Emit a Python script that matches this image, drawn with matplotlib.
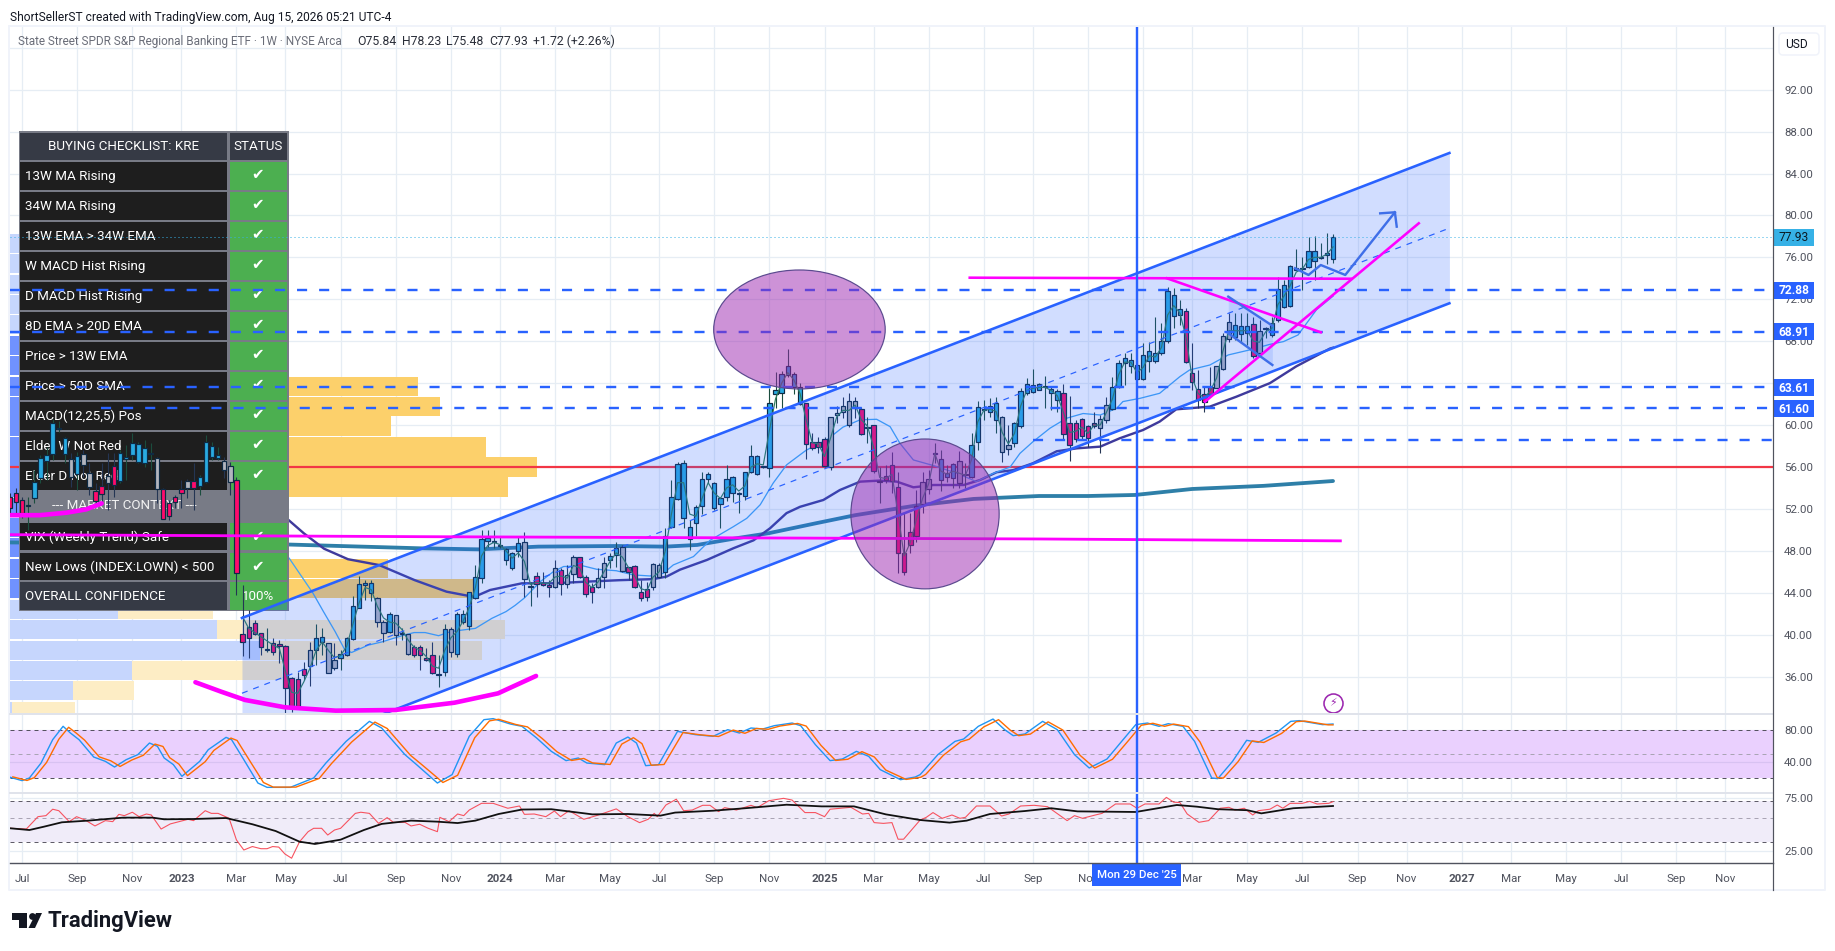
import numpy as np
import matplotlib
matplotlib.use("Agg")
import matplotlib.pyplot as plt
from matplotlib.patches import Rectangle, Ellipse, FancyBboxPatch, Polygon, Circle
from matplotlib.lines import Line2D
from matplotlib.transforms import Affine2D

plt.rcParams['font.family'] = ['Roboto', 'DejaVu Sans']

W, H = 1835, 951

# ---------- candles ----------
highs = [53.48,53.96,53.16,53.1,55.7,57.14,57.94,60.6,60.4,58.9,
57.3,57.46,57.62,56.35,54.44,56.35,57.3,57.3,57.62,58.1,
59.2,58.41,58.57,58.32,56.98,53.96,52.85,53.32,54.75,54.9,
56.35,55.2,59.05,58.41,57.94,56.98,56.5,55.07,44.74,42.36,
41.4,40.13,40.6,39.65,39.5,39.0,36.0,36.47,37.43,39.34,
41.02,40.6,39.18,39.18,38.54,39.75,43.69,45.6,45.2,45.2,
43.63,41.4,42.2,41.85,40.6,40.03,39.0,39.0,38.7,39.34,
38.06,41.02,40.77,42.2,42.36,44.1,46.65,50.0,50.0,50.0,
49.35,48.24,47.92,49.35,49.77,45.06,46.02,46.0,45.2,47.13,
46.33,46.65,47.6,47.45,45.7,44.9,46.33,47.45,47.77,48.82,
48.56,46.49,46.65,45.2,45.06,46.81,46.8,50.15,54.76,56.5,
56.67,50.95,52.38,55.5,55.56,54.6,53.17,56.2,55.15,53.65,
55.56,58.1,57.15,56.1,63.5,65.1,65.16,67.26,65.1,64.0,
62.07,59.2,58.9,58.9,60.8,61.85,62.7,63.1,62.7,61.76,
60.8,59.98,56.03,56.2,57.47,55.56,51.74,51.6,53.81,55.56,
55.72,58.26,57.62,56.2,56.35,57.56,56.35,59.2,62.3,62.4,
62.55,62.71,60.87,60.0,60.3,63.5,64.46,65.32,64.05,64.7,
63.73,63.41,63.89,62.78,60.49,60.65,60.0,61.28,60.96,62.71,
64.6,66.2,66.85,66.85,66.2,67.8,67.96,70.35,69.71,73.21,
73.05,71.94,71.14,67.8,65.26,63.67,65.58,65.65,68.76,70.66,
70.66,70.66,70.66,70.35,70.03,69.39,70.35,74.16,73.85,75.28,
76.77,76.07,77.98,78.0,77.4,78.3,78.23]
tops = [53.10,53.48,52.81,52.35,54.53,56.82,57.11,60.23,59.75,58.73,
56.79,57.08,57.2,55.45,53.67,54.15,55.17,56.12,57.3,56.95,
58.32,58.16,57.78,57.35,56.89,53.86,52.59,53.1,53.93,54.69,
54.69,55.0,58.41,58.03,57.11,56.54,56.06,54.72,40.07,40.77,
41.15,40.13,38.65,39.18,39.08,38.89,35.84,35.74,36.76,38.51,
39.65,39.75,39.18,37.55,38.13,39.65,42.71,44.81,44.9,44.9,
43.53,41.24,41.94,41.85,40.18,40.03,38.79,38.79,37.75,38.03,
36.25,40.51,40.51,41.94,41.94,44.04,45.47,49.1,49.26,48.95,
48.54,48.21,47.76,48.72,48.81,44.65,45.6,44.97,44.78,46.33,
46.18,45.67,47.38,47.45,45.54,44.59,45.44,46.81,47.48,48.24,
48.4,46.43,46.56,44.04,44.33,46.72,46.62,49.45,53.17,56.26,
56.35,50.25,52.16,54.83,55.3,54.45,53.01,54.83,55.02,53.54,
55.49,57.02,57.02,56.09,62.14,63.35,64.84,65.6,64.84,63.67,
62.07,58.35,58.35,58.64,60.74,61.18,61.79,62.27,62.27,61.5,
59.8,59.98,54.65,55.11,56.16,54.06,47.76,49.83,52.31,54.54,
54.82,57.35,56.73,55.4,56.26,56.54,55.35,58.07,61.7,61.49,
61.79,62.08,60.74,58.13,60.17,63.29,63.95,63.86,63.95,63.72,
63.48,63.29,63.09,60.17,60.17,60.55,59.88,60.17,60.55,61.88,
63.63,65.89,66.37,66.18,65.7,66.66,67.04,66.85,68.0,72.76,
72.38,71.05,70.86,64.94,63.41,63.0,63.67,65.61,68.47,69.87,
69.58,69.42,69.42,69.61,68.95,69.22,69.71,72.95,73.34,75.15,
74.94,74.95,76.64,76.64,76.02,76.39,77.93]
bots = [52.05,52.62,51.64,52.25,53.0,54.91,56.54,57.2,59.65,57.2,
55.07,55.3,56.19,54.06,52.78,53.39,54.44,54.28,54.69,56.8,
57.11,56.47,56.35,57.25,53.86,51.07,51.29,52.62,53.48,54.02,
53.96,54.15,54.6,56.92,56.85,55.68,54.53,45.85,39.27,39.65,
40.03,38.86,38.55,38.38,38.89,34.95,33.23,33.23,36.19,36.98,
38.51,39.27,36.38,36.79,37.75,38.03,39.56,42.58,44.71,43.95,
41.21,40.13,40.29,39.94,40.08,38.16,38.03,38.06,37.55,36.31,
36.15,36.47,38.38,38.19,41.18,40.86,43.47,45.38,48.97,48.85,
48.44,47.09,46.33,48.02,45.28,44.55,44.81,44.78,44.52,44.59,
44.84,44.81,45.76,45.48,43.85,44.11,44.59,45.48,47.1,47.64,
46.11,46.02,44.52,43.47,43.57,44.59,45.54,45.95,50.25,52.98,
51.17,49.1,50.69,52.28,54.89,52.12,52.44,53.17,53.49,53.44,
53.2,55.56,55.37,55.99,55.87,62.93,63.03,64.75,63.67,61.98,
58.16,57.78,57.94,56.13,55.97,61.0,61.22,59.98,61.6,59.1,
59.7,55.59,54.55,54.73,54.7,47.76,46.0,48.53,49.45,52.44,
53.87,57.25,54.76,55.08,54.92,54.51,55.25,55.02,58.36,61.39,
61.28,60.45,57.4,57.69,58.26,59.95,63.03,63.13,63.38,63.62,
63.03,62.36,59.12,58.07,58.64,58.93,58.74,59.88,59.69,60.45,
61.5,63.67,65.96,65.67,64.43,64.43,66.08,66.08,66.85,68.0,
70.44,70.47,65.99,64.14,62.36,62.24,63.0,63.57,65.38,68.18,
68.44,68.66,68.79,66.56,66.85,69.12,68.57,70.03,71.24,71.33,
74.84,74.85,75.05,75.69,75.92,76.2,75.84]
lows = [51.57,51.57,51.1,50.0,52.53,54.44,54.75,56.66,59.37,56.35,
54.12,53.8,55.07,53.32,52.53,52.69,51.9,53.16,54.44,54.75,
56.66,56.35,56.03,55.71,52.53,51.0,50.94,52.05,52.05,53.0,
51.9,53.32,54.44,56.66,56.66,54.91,53.32,43.79,38.0,37.75,
39.97,38.06,38.38,38.06,37.27,32.5,32.65,33.13,35.68,35.1,
37.11,38.06,36.3,36.63,36.63,37.97,39.5,42.5,43.31,43.2,
40.77,39.34,40.13,39.0,39.5,38.06,37.9,36.63,37.52,36.25,
35.04,36.06,37.9,37.84,40.99,40.45,43.4,44.9,48.4,48.24,
48.24,46.65,46.17,47.44,43.63,42.77,43.63,44.6,43.63,44.43,
43.79,44.43,44.9,45.38,43.63,43.0,44.43,44.43,46.33,46.49,
46.02,45.2,44.43,43.25,43.22,44.27,45.38,45.38,50.15,52.85,
50.15,48.08,49.42,51.52,54.45,51.9,50.21,52.79,52.7,51.65,
52.85,55.4,55.24,55.9,55.0,61.6,61.66,64.6,62.97,61.9,
56.76,57.62,57.3,56.03,55.71,60.17,60.64,59.85,60.64,59.05,
58.26,55.4,52.6,54.44,53.5,45.86,45.7,47.76,48.81,51.58,
53.43,56.35,53.74,54.6,54.03,53.97,53.97,54.92,57.62,60.5,
60.8,59.28,56.51,57.15,57.88,59.69,62.87,63.03,63.3,61.6,
61.44,61.28,58.58,56.6,58.42,58.58,57.94,59.69,57.3,60.23,
61.44,63.5,63.83,64.94,64.3,64.3,65.1,65.89,66.69,67.87,
69.23,69.55,65.89,63.35,61.6,61.22,62.87,63.5,65.26,67.96,
68.12,67.8,67.64,66.37,66.69,68.28,68.44,69.87,71.14,71.24,
74.8,72.89,74.96,73.85,75.8,75.4,75.48]
impulse = ("pppdbbbbbb" "gbggppgpbb" "bbbdgppppg" "pbbbbggppp" "ppdppppppg" "bbggbbbbbb"
           "ggbgdgpppp" "dbgbbbbbbd" "dbbbgdpppg" "pggpppggbb" "gppppggbbb" "bbbbbbbbbd"
           "bbbdbbbbbb" "ppppgggggp" "dpdppppppg" "gdbbbgdbbd" "bbggbbbbbd" "bbppppppgg"
           "bbbbbbbbbb" "bbpppppggg" "bbbpgdbbbb" "ddbbdbb")

# ---------- moving averages ----------
ma_fast_v = [41.7,40.6,40.2,39.8,39.4,39,38.7,36.5,34.5,34.4,35.5,36.8,38.5,39.3,38.5,37.8,38,38.9,41,43,44.5,44.3,42.7,41.6,41.2,41.1,40.5,39.5,38.8,38.5,37.9,37,36.8,38.5,39.7,40.3,41.3,42.6,44.5,47.5,48.5,48.8,48.6,48,47.3,47.8,47,44.8,45,44.9,44.9,45.5,45.6,45.4,46.6,46.4,45,44.5,45,46,47,47.8,47.4,46.4,45.6,44.4,44.2,45.5,46,48,51.5,54.5,54.5,51.5,51.3,53,54.5,53.5,53,54,54.3,53.7,54.2,56,56.3,56.2,59.5,62.5,64,65,64.3,63,60.5,58.3,58.2,57,58.8,60.8,61.4,61.4,61.9,60.5,59.9,57.9,55,54.9,55.3,51.5,47.5,48.8,51,53,54.4,57.3,55.6,55.3,55.6,55.4,55.2,56.7,60.3,61.4,61.5,61.3,59.3,58.2,59.2,61.8,63.3,63.5,63.6,63.6,63.3,62.8,61.2,59.3,59.4,59.8,59.2,60,60,61.2,62.5,64.8,66,66,65,65.5,66.6,66.5,67.4,70.5,71.4,70.7,68.4,64.5,63,62.6,63.3,64.5,67,69,69,69,69,68,67.9,68.9,69.2,71.5,72.3,73.3,74.6,74.9,75.8,76,76,76.3,77]
ma_fast_start = 38
ma_mid_i = [45.6,49.5,51.2,53.1,54.7,55.8,58.5,60.7,64,66,67.8,70,72,76,78.7,81,82.5,84,86.6,88.7,90.4,93.6,95.8,99,101.8,104.5,106.7,108.3,111.6,114.3,118.1,120.3,122.5,124.6,126.8,130,133.4,136,138.8,141.5,143.7,145.3,147.5,150.8,154.6,157.8,160.6,163.3,164.9,167,169.8,172.5,175.2,178,180.7,181.7,184.5,187.7,191,192.6,195.9,198.9,202.4,205.7,207.9,210.3,213.3,216]
ma_mid_v = [47.3,43.95,42.2,40.3,38.54,38.3,39,39.3,39.9,40.2,40.2,39.9,40.3,40.6,41.56,42.2,42.8,43.5,45.06,46,46.5,46.56,46.24,46.1,45.7,45.6,45.86,46.65,47.45,49,50.3,51.1,52.4,54.45,56.2,57.6,58.6,59.8,60.5,60.55,59.85,58.26,56.67,56.13,55.4,54.6,55.4,56,57.3,58.4,59.7,60.65,61.1,60.96,61.6,62.24,62.55,63.03,64.62,65.26,65.73,66.69,67.17,67.7,67.96,68.6,71,72.3]
ma_slow_i = [45.5,48,51.3,55.2,60.3,66.1,71.3,75.8,78.4,83.6,88.7,94.2,99.6,105,107.2,109.4,113.8,118.1,121.4,124.1,126.8,129,132.8,135.5,138.8,142,144.8,147.5,150.8,155.7,158.4,161.1,163.8,167,170.9,174.2,178,181.2,185,187.7,190.4,195.9,200.2,205.7,210,215.5,216]
ma_slow_v = [50.94,49.67,48.2,47.2,46.64,45.2,44.1,43.6,44.26,44.9,44.9,45.06,45.2,45.3,45.54,46.2,47.13,48.24,49,50.15,51.6,52.2,52.85,53.8,54.6,54.7,54.6,54.06,54.28,54.28,54.76,55.5,55.7,56.35,57.5,57.78,57.94,58.74,59.53,60.33,61.5,61.76,62.7,64,65.6,67.3,67.38]
ma_long_i = [0,45.5,67,76.6,86.3,99.1,107,112.2,118.6,123.8,131.6,138,147.7,157.3,168,176,183.7,193,204.7,216]
ma_long_v = [48.8,48.6,48.24,48.14,48.4,48.46,48.4,48.56,49.2,49.67,50.63,51.4,52.3,52.95,53.23,53.23,53.33,53.9,54.2,54.66]

# ---------- volume profile (row price, up end, down end, in weeks from pane left) ----------
vp_row_price = [77.3,75.4,73.4,71.5,69.6,67.6,65.7,63.7,61.8,59.9,57.9,56,54.1,52.1,50.2,48.3,46.3,44.4,42.4,40.5,38.5,36.6,34.7,32.7]
vp_up_end =    [14.7,14.7,14.7,14.7,14.7,22.9,27.8,31,31,31,31,31,31,16,16,16,14.7,18,17.6,33.8,40.8,19.9,10.3,0.3]
vp_down_end =  [16.3,16.3,16.3,16.3,16.3,31,39.2,66.6,70.2,62.2,77.7,86,81.3,39.2,39.2,39.2,61.7,75.6,33.1,80.8,77,44.4,20.2,10.6]
vp_strong =    [0,0,0,0,0,1,1,1,1,1,1,1,1,1,1,1,1,1,0,0,0,0,0,0]

# ---------- drawings ----------
chan_i = [37.9, 235]
chan_top = [41.59, 85.96]
chan_mid = [34.41, 78.79]
chan_bot = [27.23, 71.62]
level_prices = [72.88, 68.91, 63.61, 61.60, 58.58]
level_start = [0, 0, 0, 14.9, 167]
level_labels = ["72.88", "68.91", "63.61", "61.60"]
last_price = 77.93
support_price = 56.0
hline_i = [0, 67, 168, 217.2]
hline_v = [49.54, 49.35, 49.13, 48.95]
smile_i = [30.3, 34.5, 38.4, 44.9, 53.2, 62.9, 72.6, 79.7, 85.9]
smile_v = [35.46, 34.56, 33.77, 33.07, 32.75, 32.81, 33.51, 34.4, 36.06]
smile2_i = [0, 4.9, 9.3, 12.5, 15]
smile2_v = [51.4, 51.4, 51.64, 51.96, 52.53]
resist_i = [156.7, 219]
resist_v = [74.06, 73.96]
fall_i = [188.9, 214]
fall_v = [74.0, 68.85]
rise_i = [195.1, 230]
rise_v = [62.23, 79.25]
path_i = [209.8, 212, 214, 218, 226.1]
path_v = [74.96, 74.32, 75.27, 74.32, 80.3]
head_i = [223.7, 226.1, 226.4]
head_v = [80.2, 80.3, 78.93]
flag_i = [198.9, 206.1]
flag_hi = [72.25, 69.48]
flag_lo = [68.76, 65.73]
ell_1 = (128.9, 69.12, 28.0, 11.35)
ell_2 = (149.4, 51.52, 24.2, 14.3)
cross_i = 184
alert_i, alert_p = 216, 33.5

# ---------- oscillators ----------
k_i = [0.1,2,3.2,5.1,7,8.7,9.9,11.3,13.7,15.6,17.1,19,20.9,22.8,24.1,25.2,26.7,28.1,31,32.4,35.3,36.2,38.2,40.5,42,45.8,49.6,51.6,54.9,58.7,60.7,64.5,66.4,69.8,72.2,75,77.4,78.9,81.7,83.6,86,88.4,90.8,92.8,94.2,97.1,99,100.9,102.3,103.8,105.9,109,111.9,114.8,117.2,119.1,121,122.9,124.8,127.7,129.1,131.5,133.9,135.9,138.2,140.2,142.1,145.4,147.8,148.6,151.5,154.3,155.7,158.1,160.5,162.4,163.8,165.7,168.6,171,173.8,176.2,179.1,181.5,183.8,185.7,187.6,189.1,191.5,193.4,196.2,197.2,199.6,201.9,203.8,206.7,209.1,210.5,214.3,216]
k_v = [20.4,16.3,19.6,38.3,67.5,84.2,75.8,67.5,45.8,40.4,33.3,42.5,48.8,63.3,59.2,44.6,36.3,21.7,40.4,55,70.4,67.5,42.5,13.3,7.9,7.9,19.6,38.3,65.4,90.4,82.1,48.8,36.3,13.3,23.8,71.7,92.5,93.8,87.1,84.2,69.6,52.9,41.3,44.6,38.3,36.3,63.3,70.8,63.3,35,36.3,77.9,73.8,71.7,80,75.8,82.1,80.8,85,88.3,85,61.3,41.3,43.3,52.9,46.7,30,17.5,20.8,23.8,48.8,65.4,68.3,84.2,93.3,80,72.5,74.6,90.4,80,48.8,32.1,43.3,65.4,86.3,88.3,84.2,87.5,84.2,65.4,19.6,18.8,40.4,66.7,64.2,75.8,90.4,91.3,86.3,87.1]
d_i = [0.5,2.8,4,6,8,9.6,10.8,12.2,14.6,16.5,18,19.9,21.8,23.7,25,26.1,27.6,29,31.9,33.3,36.1,37.1,39.1,41.4,43,46.7,50.5,52.5,55.8,59.6,61.6,65.4,67.3,70.7,73.1,75.9,78.3,79.8,82.6,84.5,86.9,89.3,91.7,93.7,95.1,98,99.9,101.8,103.2,104.7,106.8,109.9,112.8,115.7,118.1,120,121.9,123.8,125.7,128.6,130,132.4,134.8,136.8,139.1,141.1,143,146.3,148.7,149.5,152.4,155.2,156.6,159,161.4,163.3,164.7,166.6,169.5,171.9,174.7,177.1,180,182.4,184.7,186.6,188.5,190,192.4,194.3,197.1,198.1,200.5,202.8,204.7,207.6,210,211.4,215.2,216]
d_v = [21,16.5,20,39,68,83,76,67,46,41,34,42,48,62,59,45,37,22.5,40,54,69.5,66.5,42,14,8.2,8.2,19,37.5,64.5,89.5,81.5,48,36,14,23,70,91,93,86.5,83.5,69,52.5,41.5,44,38.5,36.5,62,70,62.5,35.5,36.5,76.5,73.5,71.5,79.5,75.5,81.5,80.5,84.5,87.8,84.5,60.5,41.5,43,52.5,46,29.5,17.8,20.5,24,48,64.8,68,83.5,92.5,79.5,72.5,74.5,89.8,79.5,48,32,43,64.5,85.5,88,84.2,87,83.8,64.5,20,19.5,40,66,64,75.3,90,90.8,86,86]
rsi_i = [0.1,2.7,4.6,5.9,7,8,9.7,10.9,12.3,13.9,15.6,16.8,17.8,18.7,20,21.1,22.3,23.1,24.7,26.2,27.6,29.1,30,31.9,32.9,34,35.8,37,38.2,39.6,41,42,42.9,43.9,44.9,46,47.3,48.7,49.6,50.9,51.9,53,54,56.4,57.3,58.7,60.2,61.6,62.6,64.5,65.5,66.9,68.3,69.8,70.2,71.7,73.1,74.1,75,77,78.9,81.3,83.2,84,85.6,87.5,88.9,89.9,91.3,93.7,96.1,99,100.9,102.8,104.2,105.2,105.7,107.1,108.8,110,111.4,113.1,114.3,115.7,116.7,118.6,121,122,123.9,126.3,127.7,129.8,131.5,133,133.9,137.3,139.2,140.2,141.1,142.6,144,145,145.9,148.6,149.6,150.7,152.2,153.8,155.1,156,157.8,160,161.9,163.1,165,167.2,169.4,171.3,172.6,173.8,175.1,177.2,178.3,180.5,182.9,184,185.3,187.6,188.8,190,191,192.2,194.1,195.7,197.6,199,200,201.5,202.9,203.8,205.7,206.9,207.8,209,211,212.2,213.4,215.3,216]
rsi_v = [40.1,39.5,51,52.1,59.5,57.7,46,51,47.6,42.1,47,46,53.5,52.1,55.9,51,53.9,52.8,39.5,43.9,46,48.3,47,57.7,54.6,54.6,49.3,31.5,25.6,27.5,26.3,26.3,27.5,27.2,23.6,21.6,30.4,37.4,40.1,40.1,34.9,38.7,40.1,54.6,55.9,54.6,44.4,50,45.4,45.4,42.1,43.6,40.1,37.4,50.3,46,53.9,52.1,58.5,67.2,67.2,60.7,63.6,53.5,53.9,51,57.3,51,57.7,48.3,52.8,59.9,51,45.1,48.3,54.6,51,64.9,73.2,57.7,58.5,64.5,64.5,56.6,61.5,58.5,64.5,61.5,70.9,74.5,71.9,55.5,55.5,51,59.5,61.9,53.9,54.6,45.1,44.4,45.1,32,32,47.6,50.3,55.5,49.3,52.8,49.3,50.3,63.6,63.6,51.7,53.9,63.6,64.5,62.7,52.8,47,52.1,49.3,52.8,54.6,66.3,66.3,60.7,66.3,66.3,76,68.8,68.3,53.9,45.4,47,60.7,61.9,58.5,60.7,52.8,57.7,59.5,64.9,60.7,67.2,67.2,70,66.3,67.2,69.6]
rsi_ma_i = [0.1,3.2,5.6,8.5,12.8,18.5,23.3,25.2,30,35.3,39.6,43.4,47.3,49.8,54,57.8,60.7,65.5,69.8,73.1,76,79.8,83.6,88.4,92.8,95.1,100.9,106.2,108.6,114.8,120,126.8,132.5,137.8,143,148.6,153.4,156.2,160,165.7,170,174.3,183.8,190.5,193.8,197.2,202,204.3,209.5,216]
rsi_ma_v = [40.1,38.7,41.5,45.4,47,50,50,48.3,48.6,49.6,43.6,37.9,30.4,29,31.7,38.7,43.9,47,46,44.7,47,53.9,59.1,59.5,55.5,53.5,53.9,52.1,55.5,57.7,60.7,65.3,63.1,63.1,53.5,47.6,45.1,47,53.9,57.3,60.7,56.9,56.2,64.9,62.7,59.5,58.3,54.6,60.7,63.6]

# ---------- axis ----------
tick_i = [2,11,20,28,37,45,54,63,72,80,89,98,106,115,124,133,141,150,159,167,176,185,193,202,211,220,228,237,245,254,263,272,280]
tick_labels = ["Jul","Sep","Nov","2023","Mar","May","Jul","Sep","Nov","2024","Mar","May","Jul","Sep","Nov","2025","Mar","May","Jul","Sep","Nov","","Mar","May","Jul","Sep","Nov","2027","Mar","May","Jul","Sep","Nov"]
price_ticks = [36,40,44,48,52,56,60,64,68,72,76,80,84,88,92,96]
price_labels = ["36.00","40.00","44.00","48.00","52.00","56.00","60.00","","68.00","72.00","76.00","80.00","84.00","88.00","92.00",""]

# ---------- checklist table text ----------
tbl_head = ["BUYING CHECKLIST: KRE", "STATUS"]
tbl_rows = ["13W MA Rising","34W MA Rising","13W EMA > 34W EMA","W MACD Hist Rising","D MACD Hist Rising",
            "8D EMA > 20D EMA","Price > 13W EMA","Price > 50D SMA","MACD(12,25,5) Pos","Elder W Not Red","Elder D Not Red"]
tbl_rows2 = ["VIX (Weekly Trend) Safe","New Lows (INDEX:LOWN) < 500"]

# ---------- style ----------
BLUE = '#2962ff'; MAG = '#ff00ff'; GRID = '#e6edf4'; TXT = '#50535e'
fs = lambda px: px * 0.72
pxT = Affine2D().scale(1, -1).translate(0, H)

fig = plt.figure(figsize=(W/100, H/100), dpi=100, facecolor='white')
L, R = 10, 1773
def mkax(top, bot):
    return fig.add_axes([L/W, (H-bot)/H, (R-L)/W, (bot-top)/H])
ax = mkax(27, 714); ax2 = mkax(714, 793); ax3 = mkax(793, 863)
xlim = ((L-9.8)/6.126, (R-9.8)/6.126)
for a in (ax, ax2, ax3):
    a.set_xlim(*xlim)
    a.set_facecolor('white')
    for s in a.spines.values():
        s.set_visible(False)
    a.set_axisbelow(True)
    a.set_xticks(tick_i)
    a.grid(True, color=GRID, lw=0.9)
    a.yaxis.tick_right()
    a.tick_params(length=0, labelcolor=TXT, labelsize=fs(11.5), pad=8)
ax.set_ylim(32.43, 97.98)
ax.set_yticks(price_ticks)
ax.set_yticklabels(price_labels)
ax.tick_params(labelbottom=False)
ax2.tick_params(labelbottom=False)
ax2.set_ylim(0.83, 99.6)
ax2.set_yticks([40, 80]); ax2.set_yticklabels(["40.00", "80.00"])
ax3.set_yscale('log')
ax3.set_ylim(19.57, 83.2)
ax3.set_yticks([25, 75]); ax3.set_yticklabels(["25.00", "75.00"])
ax3.minorticks_off()
ax3.set_xticks(tick_i)
ax3.set_xticklabels(tick_labels)
for lab, t in zip(ax3.get_xticklabels(), tick_labels):
    if t.isdigit():
        lab.set_fontweight('bold')
ax3.tick_params(axis='x', pad=8)

# volume profile
for p, u, d, st in zip(vp_row_price, vp_up_end, vp_down_end, vp_strong):
    cu = '#7092ff' if st else '#c6d6fd'
    cd = '#fcd06b' if st else '#fdedc5'
    ax.barh(p, d - u, left=u, height=1.84, color=cd, lw=0, zorder=2)
    ax.barh(p, u, left=0, height=1.84, color=cu, lw=0, zorder=2)

# lines below table
ax.axhline(support_price, color='#f23645', lw=fs(2.2), zorder=3)
ax.plot(ma_long_i, ma_long_v, color='#2e7fa8', lw=fs(3.8), zorder=3, solid_capstyle='round')
ax.plot(ma_slow_i, ma_slow_v, color='#3f3a9c', lw=fs(2.4), zorder=3)
ax.plot(ma_mid_i, ma_mid_v, color='#42a5f5', lw=fs(1.3), zorder=3.1)

# checklist table
def box(x0, y0, x1, y1, fc, z=5):
    ax.add_patch(Rectangle((x0, y0), x1-x0, y1-y0, transform=pxT, fc=fc, ec='none', zorder=z, clip_on=False))
def ttext(x, y, s, ha='left', c='white', size=13.4, **kw):
    ax.text(x, y, s, transform=pxT, ha=ha, va='center', color=c, fontsize=fs(size), zorder=5.2, clip_on=False, **kw)
box(18.5, 131, 288.5, 611, '#787b86')
box(20, 132.5, 227, 160, '#363a45'); box(229.5, 132.5, 287, 160, '#363a45')
ttext(124, 146.5, tbl_head[0], ha='center'); ttext(258, 146.5, tbl_head[1], ha='center')
row_tops = [161.5 + 30*n for n in range(11)]
for y0, s in zip(row_tops, tbl_rows):
    box(20, y0, 227, y0+28, '#1e1e1e'); box(229.5, y0, 287, y0+28, '#4caf50')
    ttext(25, y0+15, s)
    ttext(258, y0+14, '✔', ha='center', size=15)
ttext(124, 505.5, "--- MARKET CONTEXT ---", ha='center', c='#f2f2f2')
for y0, s in zip([522.5, 552.5], tbl_rows2):
    box(20, y0, 227, y0+27.5, '#1e1e1e'); box(229.5, y0, 287, y0+27.5, '#4caf50')
    ttext(25, y0+15, s)
    ttext(258, y0+14, '✔', ha='center', size=15)
box(20, 582, 227, 609.5, '#363a45'); box(229.5, 582, 287, 609.5, '#4caf50')
ttext(25, 596, "OVERALL CONFIDENCE")
ttext(258, 596, "100%", ha='center')

# candles
idx = np.arange(len(highs))
cmap = {'b': '#29abe2', 'p': '#ff0a6c', 'g': '#b2b5be', 'd': '#29abe2'}
colors = [cmap[c] for c in impulse]
wick = ['#1b4d3e' if c in 'bd' else '#243553' for c in impulse]
ax.vlines(idx, lows, highs, colors=wick, lw=fs(1.1), zorder=5.9)
ax.bar(idx, np.array(tops) - np.array(bots), bottom=bots, width=0.72, color=colors,
       edgecolor='#0e2a44', lw=fs(1.2), zorder=6)
ax.plot(np.arange(ma_fast_start, ma_fast_start + len(ma_fast_v)), ma_fast_v, color='#2f7d5b', lw=fs(1.2), zorder=6.1)

# channel
ax.fill_between(chan_i, chan_bot, chan_top, color=BLUE, alpha=0.21, lw=0, zorder=7)
ax.plot(chan_i, chan_top, color=BLUE, lw=fs(2.6), zorder=8)
ax.plot(chan_i, chan_bot, color=BLUE, lw=fs(2.6), zorder=8)
ax.plot(chan_i, chan_mid, color=BLUE, lw=fs(1.2), ls=(0, (5, 5)), zorder=8)

# levels
for p, s in zip(level_prices, level_start):
    ax.plot([s, xlim[1]], [p, p], color=BLUE, lw=fs(2.4), ls=(0, (4.2, 5)), zorder=8.5)
ax.axhline(last_price, color='#36b1e6', lw=fs(1), ls=(0, (1, 3)), zorder=8.5)
ax.plot(hline_i, hline_v, color=MAG, lw=fs(2.8), zorder=9)
ax.plot(smile_i, smile_v, color=MAG, lw=fs(4.6), zorder=9, solid_capstyle='round')
ax.plot(smile2_i, smile2_v, color=MAG, lw=fs(4.6), zorder=9, solid_capstyle='round')
ax.plot(resist_i, resist_v, color=MAG, lw=fs(2.6), zorder=9)
ax.plot(fall_i, fall_v, color=MAG, lw=fs(2.6), zorder=9)
ax.plot(rise_i, rise_v, color=MAG, lw=fs(2.6), zorder=9)
ax.fill_between(flag_i, flag_lo, flag_hi, color=BLUE, alpha=0.14, lw=0, zorder=8.6)
ax.plot(flag_i, flag_hi, color='#3f6fe8', lw=fs(2.4), zorder=9)
ax.plot(flag_i, flag_lo, color='#3f6fe8', lw=fs(2.4), zorder=9)
ax.plot(path_i, path_v, color='#3f6fe8', lw=fs(2.4), zorder=9)
ax.plot(head_i, head_v, color='#3f6fe8', lw=fs(2.4), zorder=9)

# ellipses
for cx, cy, w_, h_ in (ell_1, ell_2):
    ax.add_patch(Ellipse((cx, cy), w_, h_, fc=(0.612, 0.153, 0.69, 0.5), ec='#5b4a8f', lw=fs(1.2), zorder=10))

# oscillators
ax2.axhspan(20, 80, color='#ead0fe', lw=0, zorder=1.0)
ax2.axhline(40, color='#d8c2f2', lw=fs(1.2), zorder=1.1)
ax2.axhline(80, color='#55525f', lw=fs(1), ls=(0, (4, 4)), zorder=2)
ax2.axhline(50, color='#a9a4b4', lw=fs(1), ls=(0, (4, 4)), zorder=2)
ax2.axhline(20, color='#55525f', lw=fs(1), ls=(0, (4, 4)), zorder=2)
ax2.plot(k_i, k_v, color='#2196f3', lw=fs(1.4), zorder=3)
ax2.plot(d_i, d_v, color='#ff6d00', lw=fs(1.4), zorder=3.1)

ax3.axhspan(30, 70, color='#f0ecf9', lw=0, zorder=1.0)
ax3.axhline(70, color='#5f5c68', lw=fs(1), ls=(0, (4, 4)), zorder=2)
ax3.axhline(50, color='#a9a4b4', lw=fs(1), ls=(0, (4, 4)), zorder=2)
ax3.axhline(30, color='#5f5c68', lw=fs(1), ls=(0, (4, 4)), zorder=2)
ax3.plot(rsi_i, rsi_v, color='#f7525f', lw=fs(1.1), zorder=3)
ax3.plot(rsi_ma_i, rsi_ma_v, color='#111111', lw=fs(1.8), zorder=3.1)

# crosshair
for a in (ax, ax2, ax3):
    a.axvline(cross_i, color=BLUE, lw=fs(2.4), zorder=12)

# price tags
def tag(price, s, fc, tc, weight='bold'):
    y = H - ax.transData.transform((0, price))[1]
    ax.add_patch(Rectangle((R, y-8.2), 41, 17, transform=pxT, fc=fc, ec='none', zorder=20, clip_on=False))
    ax.text(R+21, y+0.8, s, transform=pxT, ha='center', va='center', color=tc, fontsize=fs(12),
            fontweight=weight, zorder=21, clip_on=False)
tag(last_price, f"{last_price:.2f}", '#36b1e6', '#0b1a24', 'normal')
for p, s in zip(level_prices[:4], level_labels):
    tag(p, s, BLUE, 'white')

# date tag
ax3.add_patch(Rectangle((1092, 863), 89, 22.5, transform=pxT, fc=BLUE, ec='none', zorder=20, clip_on=False))
ax3.text(1136.5, 875, "Mon 29 Dec '25", transform=pxT, ha='center', va='center', color='white',
         fontsize=fs(11.5), fontweight='medium', zorder=21, clip_on=False)

# alert icon
ax.plot([alert_i], [alert_p], marker='o', ms=fs(19), mfc='white', mec='#9c27b0', mew=fs(1.6), zorder=13, clip_on=False)
ax.text(alert_i, alert_p, '⚡', ha='center', va='center', color='#9c27b0', fontsize=fs(11), family=['DejaVu Sans'], zorder=14)

# frame / dividers
def fline(x, y, c, lw):
    fig.add_artist(Line2D(x, y, transform=pxT, color=c, lw=fs(lw), zorder=5))
fline([9, 1825, 1825, 9, 9], [26, 26, 890, 890, 26], '#f0f3fa', 2)
fline([10, 1773], [714, 714], '#e0e3eb', 2)
fline([10, 1773], [793, 793], '#e0e3eb', 2)
fline([10, 1773], [863, 863], '#50535e', 1.4)
fline([1773, 1773], [27, 890], '#50535e', 1.2)
fig.add_artist(FancyBboxPatch((1779, 33), 40, 22, boxstyle="round,pad=0,rounding_size=4", transform=pxT,
                              fc='white', ec='#f0f3fa', lw=fs(1.5), zorder=6))
fig.text(1796.5, 44, "USD", transform=pxT, ha='center', va='center', color='#131722', fontsize=fs(12), zorder=7)

# header text
def ftext(x, y, s, c, size=12, **kw):
    fig.text(x, y, s, transform=pxT, va='center', color=c, fontsize=fs(size), zorder=7, **kw)
ftext(9.5, 17, "ShortSellerST created with TradingView.com, Aug 15, 2026 05:21 UTC-4", '#131722', 12)
ftext(18, 41.5, "State Street SPDR S&P Regional Banking ETF · 1W · NYSE Arca", '#6a6d78', 11.8)
for x, s in zip([357, 401.6, 446, 489, 533], ["O75.84", "H78.23", "L75.48", "C77.93", "+1.72 (+2.26%)"]):
    ftext(x, 41.5, s, '#2a2e39', 12.2)

# TradingView logo
fig.add_artist(Polygon([[12, 913], [27, 913], [27, 928], [19, 928], [19, 920], [12, 920]], transform=pxT, fc='#131722', ec='none', zorder=7))
fig.add_artist(Circle((32.5, 916.5), 3.4, transform=pxT, fc='#131722', ec='none', zorder=7))
fig.add_artist(Polygon([[36, 913], [42, 913], [35, 928], [28.5, 928]], transform=pxT, fc='#131722', ec='none', zorder=7))
fig.text(48, 920.5, "TradingView", transform=pxT, ha='left', va='center', color='#131722', fontsize=fs(22), fontweight='bold', zorder=7)

fig.savefig("out.png", dpi=100)
